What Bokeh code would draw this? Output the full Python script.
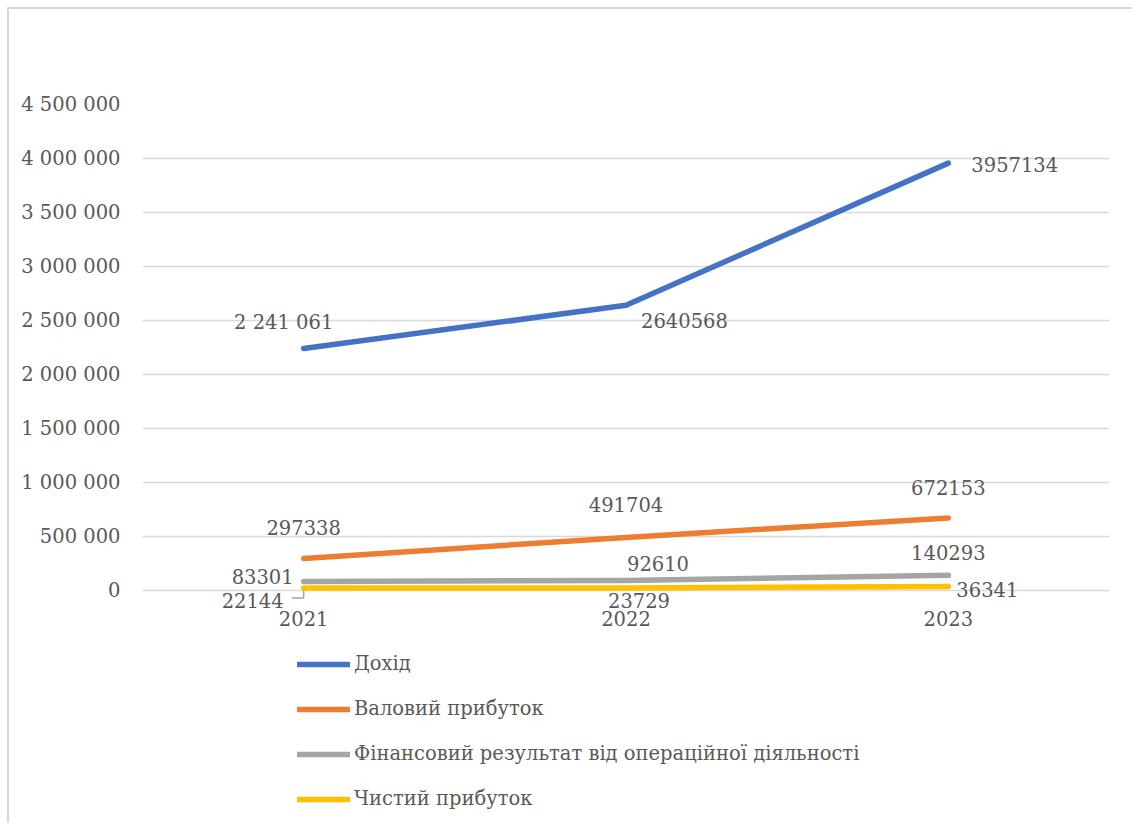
from bokeh.plotting import figure
from bokeh.models import Legend, LegendItem, CustomJSTickFormatter, FactorRange
from bokeh.core.properties import value
from bokeh.embed import file_html
from bokeh.resources import INLINE

years = ["2021", "2022", "2023"]
series_names = ["Дохід", "Валовий прибуток",
                "Фінансовий результат від операційної діяльності", "Чистий прибуток"]
dohid = [2241061, 2640568, 3957134]
valovyi = [297338, 491704, 672153]
fin_result = [83301, 92610, 140293]
chystyi = [22144, 23729, 36341]
label_texts = [
    ["2 241 061", "2640568", "3957134"],
    ["297338", "491704", "672153"],
    ["83301", "92610", "140293"],
    ["22144", "23729", "36341"],
]
y_ticks = [0, 500000, 1000000, 1500000, 2000000, 2500000, 3000000, 3500000, 4000000, 4500000]

series = [dohid, valovyi, fin_result, chystyi]
colors = ["#4472C4", "#ED7D31", "#A5A5A5", "#FFC000"]
# label placement (screen px offsets, alignment) per series / point
lab_dx = [[-20, 15, 23], [0, 0, 0], [-10, 32, 0], [-20, 13, 8]]
lab_dy = [[-26, 15, 1], [-31, -33, -30], [-5, -17, -23], [12, 13, 3]]
lab_align = [["center", "left", "left"], ["center"] * 3, ["right", "center", "center"],
             ["right", "center", "left"]]

FONT = "DejaVu Serif"
FS = "19.5px"
TXT = "#595959"
GRID = "#D9D9D9"

Y_MAX = 4500000
PX_PER_UNIT = 486.0 / Y_MAX          # plot scale: 486 px for the axis span
FRAME_H = 721                        # frame runs to the page bottom
Y_MIN = -(FRAME_H - 486) / PX_PER_UNIT

p = figure(width=1125, height=816, x_range=FactorRange(*years), y_range=(Y_MIN, Y_MAX),
           output_backend="svg", toolbar_location=None,
           min_border_left=133, min_border_right=25, min_border_top=95, min_border_bottom=0)
p.outline_line_color = None
p.background_fill_color = "white"
p.border_fill_color = "white"
p.styles = {"margin-left": "7px", "margin-top": "7px",
            "border-left": "2px solid #D9D9D9", "border-top": "2px solid #D9D9D9"}

p.xaxis.visible = False
p.xgrid.grid_line_color = None
p.ygrid.grid_line_color = GRID
p.ygrid.grid_line_width = 1.5
p.yaxis.ticker = y_ticks
p.yaxis.formatter = CustomJSTickFormatter(
    code="return Math.round(tick).toString().replace(/\\B(?=(\\d{3})+(?!\\d))/g, ' ');")
ax = p.yaxis[0]
ax.axis_line_color = None
ax.major_tick_line_color = None
ax.minor_tick_line_color = None
ax.major_tick_out = 0
ax.major_tick_in = 0
ax.major_label_text_font = FONT
ax.major_label_text_font_size = FS
ax.major_label_text_color = TXT
ax.major_label_standoff = 22

# category labels under the zero line
p.text(x=years, y=[0, 0, 0], text=years, y_offset=28, text_align="center",
       text_baseline="middle", text_font=value(FONT), text_font_size=FS, text_color=TXT)

renderers = []
for vals, col in zip(series, colors):
    r = p.line(x=years, y=vals, line_color=col, line_width=5.5, line_cap="round",
               line_join="round")
    renderers.append(r)

for si, vals in enumerate(series):
    for pi in range(3):
        p.text(x=[years[pi]], y=[vals[pi]], text=[label_texts[si][pi]],
               x_offset=lab_dx[si][pi], y_offset=lab_dy[si][pi],
               text_align=lab_align[si][pi], text_baseline="middle",
               text_font=value(FONT), text_font_size=FS, text_color=TXT)

# leader line for the 2021 net-profit label
p.line(x=[0.5 - 12 / 322.0, 0.5, 0.5],
       y=[chystyi[0] - 10 / PX_PER_UNIT, chystyi[0] - 10 / PX_PER_UNIT, chystyi[0] - 2 / PX_PER_UNIT],
       line_color="#A5A5A5", line_width=1.5)

legend = Legend(items=[LegendItem(label=n, renderers=[r]) for n, r in zip(series_names, renderers)],
                location=(155, 15), orientation="vertical",
                label_text_font=FONT, label_text_font_size=FS, label_text_color=TXT,
                glyph_width=53, glyph_height=20, label_height=20, label_standoff=4,
                spacing=22, padding=0, margin=0, border_line_color=None,
                background_fill_alpha=0)
p.add_layout(legend, "center")

open("out.html", "w").write(file_html(p, INLINE))
